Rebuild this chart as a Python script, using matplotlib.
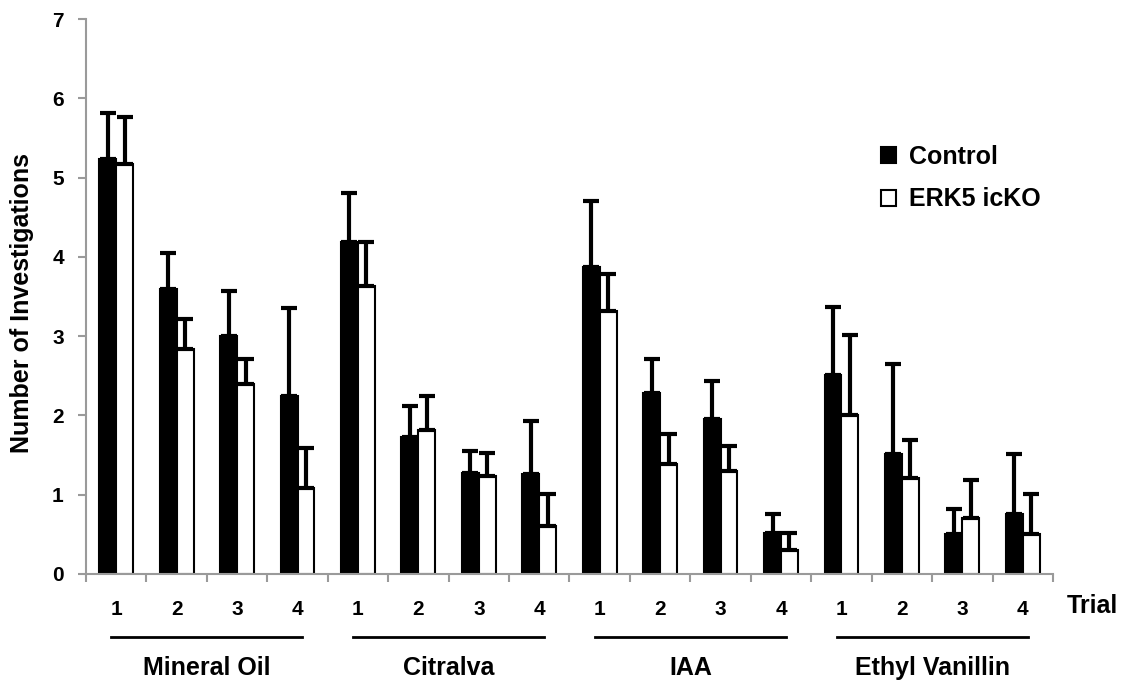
import matplotlib
matplotlib.use("Agg")
import matplotlib.pyplot as plt
import matplotlib.transforms as mtransforms
import numpy as np

plt.rcParams['font.family'] = ['Liberation Sans', 'DejaVu Sans']
plt.rcParams['font.weight'] = 'bold'

# ── Data ──
odors = ["Mineral Oil", "Citralva", "IAA", "Ethyl Vanillin"]
trials = ["1", "2", "3", "4"]

control_mean = [5.23, 3.59, 3.00, 2.25,
                4.19, 1.73, 1.27, 1.26,
                3.87, 2.28, 1.96, 0.51,
                2.51, 1.51, 0.50, 0.76]
control_err = [0.58, 0.46, 0.57, 1.10,
               0.61, 0.39, 0.28, 0.67,
               0.83, 0.43, 0.47, 0.25,
               0.86, 1.14, 0.32, 0.75]

ko_mean = [5.17, 2.84, 2.40, 1.09,
           3.63, 1.82, 1.23, 0.60,
           3.32, 1.39, 1.30, 0.30,
           2.00, 1.21, 0.71, 0.50]
ko_err = [0.60, 0.37, 0.31, 0.50,
          0.56, 0.42, 0.30, 0.41,
          0.46, 0.37, 0.32, 0.21,
          1.01, 0.48, 0.48, 0.51]

fig = plt.figure(figsize=(11.21, 6.8), dpi=100)
ax = fig.add_axes([0.0767, 0.156, 0.8626, 0.816])

n = len(control_mean)
x = np.arange(n) + 0.5
w = 0.28

ax.bar(x - w / 2, control_mean, w, color='black', edgecolor='black',
       linewidth=1.5, label='Control', zorder=2)
ax.bar(x + w / 2, ko_mean, w, color='white', edgecolor='black',
       linewidth=1.5, label='ERK5 icKO', zorder=2)

# only the upper half of each error bar is drawn
zeros = np.zeros(n)
ax.errorbar(x - w / 2, control_mean, yerr=[zeros, control_err], fmt='none',
            ecolor='black', elinewidth=3, capsize=6, capthick=3, zorder=3)
ax.errorbar(x + w / 2, ko_mean, yerr=[zeros, ko_err], fmt='none',
            ecolor='black', elinewidth=3, capsize=6, capthick=3, zorder=3)

ax.set_xlim(0, n)
ax.set_ylim(0, 7)
ax.set_yticks(range(0, 8))
ax.set_xticks(range(0, n + 1))
ax.set_xticklabels([])
ax.set_xticks(x, minor=True)
ax.set_xticklabels(trials * len(odors), minor=True)

for s in ['top', 'right']:
    ax.spines[s].set_visible(False)
for s in ['left', 'bottom']:
    ax.spines[s].set_color('#9a9a9a')
    ax.spines[s].set_linewidth(1.5)

ax.tick_params(axis='y', which='major', direction='out', length=6, width=1.5,
               color='#9a9a9a', labelsize=15, pad=10)
ax.tick_params(axis='x', which='major', direction='out', length=6, width=1.5,
               color='#9a9a9a')
ax.tick_params(axis='x', which='minor', length=0, labelsize=15, pad=19)

ax.set_ylabel('Number of Investigations', fontsize=18, fontweight='bold',
              labelpad=13, y=0.488)

# group lines and odor names under the trial numbers
trans = mtransforms.blended_transform_factory(ax.transData, ax.transAxes)
for i, name in enumerate(odors):
    start = i * 4
    ax.plot([start + 0.42, start + 3.58], [-0.1135, -0.1135], color='black',
            linewidth=2, transform=trans, clip_on=False)
    ax.text(start + 2, -0.17, name, transform=trans, ha='center',
            va='center', fontsize=18, fontweight='bold')

ax.text(n + 0.66, -0.058, 'Trial', transform=trans, ha='center',
        va='center', fontsize=18, fontweight='bold')

leg = ax.legend(loc='upper left', bbox_to_anchor=(0.799, 0.814), frameon=False,
                fontsize=18, handlelength=0.6, handleheight=0.6,
                handletextpad=0.5, labelspacing=0.75)

fig.savefig('out.png', dpi=100)
